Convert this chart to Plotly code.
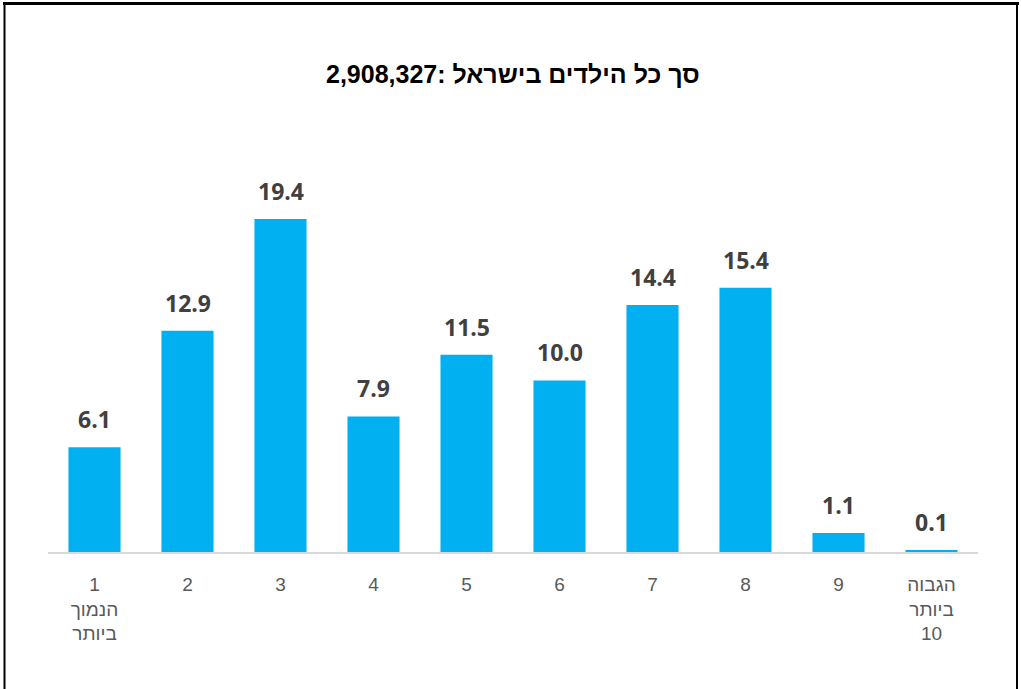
import plotly.graph_objects as go

categories = ["1<br>הנמוך<br>ביותר", "2", "3", "4", "5", "6", "7", "8", "9", "הגבוה<br>ביותר<br>10"]
values = [6.1, 12.9, 19.4, 7.9, 11.5, 10.0, 14.4, 15.4, 1.1, 0.1]
labels = [f"{v:.1f}" for v in values]
title_text = "סך כל הילדים בישראל :2,908,327"

W, H = 1021, 689
L, R, T, B = 48, 43, 150, 137
pw, ph = W - L - R, H - T - B

def px_x(x):
    return (x - L) / pw

def px_y(y):
    return (H - B - y) / ph

fig = go.Figure()
fig.add_trace(go.Bar(
    x=categories, y=values, marker=dict(color="#00b0f0", line=dict(width=0)),
    hoverinfo="skip",
))

for i, (v, t) in enumerate(zip(values, labels)):
    fig.add_annotation(x=i, y=v, text=f"<b>{t}</b>", showarrow=False, yanchor="bottom",
                       yshift=10, font=dict(family="Open Sans", size=23, color="#404040"),
                       xref="x", yref="y")

fig.add_annotation(x=0.5, y=px_y(74), xref="paper", yref="paper", text=f"<b>{title_text}</b>",
                   showarrow=False, font=dict(family="Liberation Sans, Arial", size=25, color="#000000"),
                   yanchor="middle", xanchor="center")

# frame
fig.add_shape(type="line", xref="paper", yref="paper", x0=px_x(3), x1=px_x(1019), y0=px_y(3.5), y1=px_y(3.5),
              line=dict(color="#000000", width=3))
fig.add_shape(type="line", xref="paper", yref="paper", x0=px_x(4.5), x1=px_x(4.5), y0=px_y(3), y1=px_y(700),
              line=dict(color="#000000", width=2))
fig.add_shape(type="line", xref="paper", yref="paper", x0=px_x(1017), x1=px_x(1017), y0=px_y(3), y1=px_y(700),
              line=dict(color="#000000", width=2))

fig.update_layout(
    width=W, height=H,
    margin=dict(l=L, r=R, t=T, b=B),
    paper_bgcolor="#ffffff", plot_bgcolor="#ffffff",
    bargap=0.44, showlegend=False,
    xaxis=dict(type="category", showline=True, linecolor="#d9d9d9", linewidth=2, ticks="", showgrid=False,
               tickfont=dict(family="Liberation Sans, Arial", size=19, color="#595959"),
               ticklabelstandoff=14, fixedrange=True),
    yaxis=dict(range=[0, ph / 17.16], visible=False, showgrid=False, zeroline=False, fixedrange=True),
)

fig.write_html("out.html", config={"displayModeBar": False},
               post_script="document.body.style.margin='0';document.body.style.overflow='hidden';")
